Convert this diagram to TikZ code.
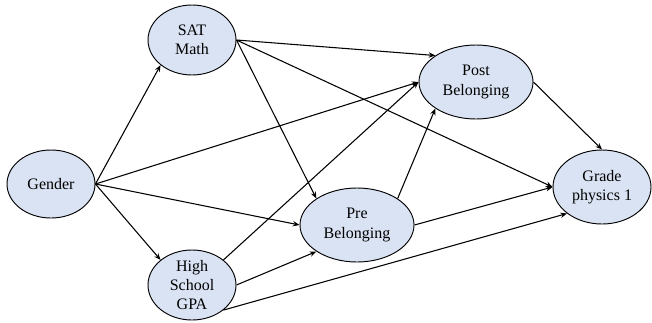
\documentclass[tikz,border=0pt]{standalone}
\usepackage{fontspec}
\setmainfont{Liberation Serif}
\newfontfamily\policevar{Liberation Serif}
\usetikzlibrary{shapes.geometric,arrows.meta}
\definecolor{bleuclair}{HTML}{DAE3F3}

\tikzset{
    varbox/.style={draw, ellipse, fill=bleuclair, line width=0.7pt, align=center,
        inner sep=-15pt, font=\policevar\fontsize{12}{14.5}\selectfont},
    fleche/.style={-{Stealth[length=5pt, width=4pt]}, line width=0.8pt}
}

\begin{document}
\begin{tikzpicture}[x=0.75pt, y=-0.75pt]

    \useasboundingbox (0, 0) rectangle (652, 322);

    % Les variables
    \node[varbox, minimum width=66pt, minimum height=51pt] (gender) at (51, 184) {Gender};
    \node[varbox, minimum width=66pt, minimum height=52.5pt] (sat) at (192, 40) {SAT\\Math};
    \node[varbox, minimum width=66pt, minimum height=52.5pt] (gpa) at (192, 285) {High\\School\\GPA};
    \node[varbox, minimum width=85.5pt, minimum height=55.5pt] (pre) at (357, 225) {Pre\\Belonging};
    \node[varbox, minimum width=85.5pt, minimum height=55.5pt] (post) at (476, 82) {Post\\Belonging};
    \node[varbox, minimum width=73.5pt, minimum height=55.5pt] (grade) at (602, 187) {Grade\\physics 1};

    % Les fleches
    \draw[fleche] (gender.east) -- (sat.south west);
    \draw[fleche] (gender.east) -- (gpa.north west);
    \draw[fleche] (gender.east) -- (post.west);
    \draw[fleche] (gender.east) -- (pre.west);

    \draw[fleche] (sat.east) -- (post.north west);
    \draw[fleche] (sat.east) -- (grade.west);
    \draw[fleche] (sat.east) -- (pre.north west);

    \draw[fleche] (gpa.north east) -- (post.west);
    \draw[fleche] (gpa.east) -- (pre.south west);
    \draw[fleche] (gpa.south east) -- (grade.south west);

    \draw[fleche] (pre.north east) -- (post.south west);
    \draw[fleche] (pre.east) -- (grade.west);
    \draw[fleche] (post.east) -- (grade.north);

\end{tikzpicture}
\end{document}
